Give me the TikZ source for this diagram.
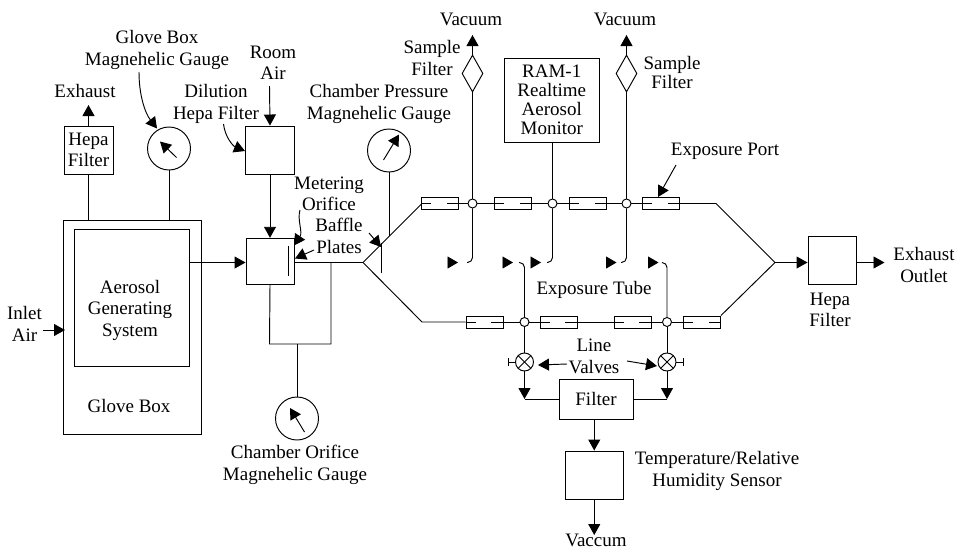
\documentclass[tikz,border=0pt]{standalone}
\usepackage{fontspec}
\setmainfont{Liberation Serif}
\usetikzlibrary{arrows.meta,shapes.geometric}
\tikzset{
  x=1pt,y=-1pt,
  every path/.style={line width=0.95pt},
  box/.style={draw,rectangle,inner sep=0pt,fill=white},
  gauge/.style={draw,circle,inner sep=0pt,minimum size=43pt},
  portbox/.style={draw,rectangle,inner sep=0pt,minimum width=37pt,minimum height=12pt,line width=0.85pt},
  junc/.style={draw,circle,inner sep=0pt,minimum size=9pt,fill=white},
  valve/.style={draw,circle,inner sep=0pt,minimum size=18pt,path picture={
     \draw (path picture bounding box.north west)--(path picture bounding box.south east);
     \draw (path picture bounding box.north east)--(path picture bounding box.south west);}},
  sfilter/.style={draw,diamond,inner sep=0pt,minimum width=21pt,minimum height=37pt},
  lbl/.style={align=center,inner sep=0pt,font=\fontsize{19}{21.5}\selectfont},
  ram/.style={align=center,font=\fontsize{19}{19}\selectfont},
  arr/.style={-{Triangle[length=11pt,width=12pt]}},
  smalltip/.style={-{Triangle[length=10.5pt,width=12pt]}},
  valvehandle/.style={-{Bar[width=8pt]}},
  hook/.style={rounded corners=5pt},
}
\newcommand{\tubeport}[3]{%
  \node[portbox] (#1) at (#2,#3) {};
  \draw[line width=0.85pt] (#1.west) -- ++(10,0);
  \draw[line width=0.85pt] (#1.east) -- ++(-12,0);
}
\begin{document}
\begin{tikzpicture}
\useasboundingbox (0,0) rectangle (956,549);
% boxes
\node[box,minimum width=49pt,minimum height=48pt,align=center,font=\fontsize{19}{20.5}\selectfont] (Hepa) at (88.5,150) {Hepa\\Filter};
\node[box,minimum width=138pt,minimum height=214.5pt] (Outer) at (132,327.25) {};
\node[box,minimum width=115.5pt,minimum height=137pt] (Inner) at (131.75,297.5) {};
\node[lbl] (tAGS) at (130,310) {Aerosol\\Generating\\System};
\node[lbl] (tGB) at (129,405.5) {Glove Box};
\node[box,minimum width=49.5pt,minimum height=48pt] (Dil) at (270,150) {};
\node[box,minimum width=48pt,minimum height=46.5pt] (Mix) at (270,261.5) {};
\node[box,minimum width=94.5pt,minimum height=84pt,ram] (RAM) at (551.75,100) {RAM-1\\Realtime\\Aerosol\\Monitor};
\node[box,minimum width=48pt,minimum height=48pt] (HepaR) at (832,260) {};
\node[box,minimum width=74pt,minimum height=40pt,font=\fontsize{19}{20}\selectfont] (Filt) at (596,399) {Filter};
\node[box,minimum width=58.5pt,minimum height=48pt] (Temp) at (594.25,475) {};
% gauges
\node[gauge] (G1) at (169,148.5) {};
\node[gauge] (G2) at (389,150.5) {};
\node[gauge] (G3) at (297,418.5) {};
% needles
\coordinate (n1a) at (176.5,157.5); \coordinate (n1b) at (160,141.5);
\coordinate (n2a) at (383.5,160);   \coordinate (n2b) at (399,134.5);
\coordinate (n3a) at (304.5,432);   \coordinate (n3b) at (290,408);
\draw[arr] (n1a) -- (n1b);
\draw[arr] (n2a) -- (n2b);
\draw[arr] (n3a) -- (n3b);
% tube ports
\tubeport{UP1}{440}{203.5}
\tubeport{UP2}{513.3}{203.5}
\tubeport{UP3}{588}{203.5}
\tubeport{UP4}{661}{203.5}
\tubeport{LP1}{484.5}{322}
\tubeport{LP2}{558.5}{322}
\tubeport{LP3}{632.5}{322}
\tubeport{LP4}{702}{322}
% junctions
\node[junc] (J1) at (472.5,203.5) {};
\node[junc] (J2) at (552.5,203.5) {};
\node[junc] (J3) at (626.5,203.5) {};
\node[junc] (LJ1) at (524.5,322) {};
\node[junc] (LJ2) at (667,322) {};
% sample filters
\node[sfilter] (D1) at (472.5,73.5) {};
\node[sfilter] (D2) at (626.5,73.5) {};
% valves
\node[valve] (V1) at (524.5,362) {};
\node[valve] (V2) at (667,362) {};
% key points
\coordinate (br) at (363,262.5);
\coordinate (ulb) at (422,203.5);
\coordinate (llb) at (422,322);
\coordinate (urb) at (716,203.5);
\coordinate (mrg) at (775,262.5);
\coordinate (exh) at (884.5,262.5);
\coordinate (baf1) at (381,243);
\coordinate (baf2) at (381,273);
\coordinate (bar1) at (288,246);
\coordinate (bar2) at (288,276);
\coordinate (g2e) at (389,236);
\coordinate (bl) at (269.5,344);
\coordinate (brc) at (331,344);
\coordinate (brt) at (331,262.5);
\coordinate (g3t) at (297,344);
% main flow
\draw[arr] (Inner.east |- br) -- (Mix.west |- br);
\draw (Mix.east |- br) -- (br);
\draw (br) -- (ulb) -- (UP1.west);
\draw (br) -- (llb) -- (LP1.west);
\draw (baf1) -- (baf2);
\draw (bar1) -- (bar2);
\draw (UP1.east) -- (J1);
\draw (J1) -- (UP2.west);
\draw (UP2.east) -- (J2);
\draw (J2) -- (UP3.west);
\draw (UP3.east) -- (J3);
\draw (J3) -- (UP4.west);
\draw (UP4.east) -- (urb) -- (mrg) -- (LP4.north east);
\draw (LP1.east) -- (LJ1);
\draw (LJ1) -- (LP2.west);
\draw (LP2.east) -- (LP3.west);
\draw (LP3.east) -- (LJ2);
\draw (LJ2) -- (LP4.west);
\draw[arr] (mrg) -- (HepaR.west |- mrg);
\draw[arr] (HepaR.east |- mrg) -- (exh);
% left side
\coordinate (exT) at (88.5,105);
\draw[arr] (Hepa.north) -- (exT);
\draw (Hepa.south) -- (Hepa.south |- Outer.north);
\draw (G1.south) -- (G1.south |- Outer.north);
\coordinate (roomS) at (269.5,86);
\draw[arr] (roomS) -- (Dil.north);
\draw[arr] (Dil.south) -- (Mix.north);
\draw (G2.south) -- (g2e);
\draw (Mix.south) -- (bl) -- (brc) -- (brt);
\draw (g3t) -- (G3.north);
\coordinate (inS) at (43,330); \coordinate (inE) at (65,330);
\draw[arr] (inS) -- (inE);
% vacuum lines
\coordinate (vac1) at (472.5,35);
\coordinate (vac2) at (626.5,35);
\draw[arr] (D1.north) -- (vac1);
\draw[arr] (D2.north) -- (vac2);
\draw (J1) -- (D1.south);
\draw (J3) -- (D2.south);
\draw (J2) -- (RAM.south -| J2);
% hooks
\coordinate (h1) at (467,262.5);
\coordinate (h2) at (519,262.5);
\coordinate (h3) at (547,262.5);
\coordinate (h4) at (621,262.5);
\coordinate (h5) at (662,262.5);
\draw[hook] (J1) |- (h1);
\draw[hook] (LJ1) |- (h2);
\draw[hook] (J2) |- (h3);
\draw[hook] (J3) |- (h4);
\draw[hook] (LJ2) |- (h5);
% free triangles
\foreach \n/\xa in {a/447.5,b/502.5,c/530.5,d/606,e/648}{
  \coordinate (ts\n) at (\xa,262.5);
  \coordinate (te\n) at (\xa+10.5,262.5);
  \draw[smalltip] (ts\n) -- (te\n);
}
% valves and filter
\coordinate (c1) at (524.5,399);
\coordinate (c2) at (667,399);
\coordinate (vh1) at (508,362);
\coordinate (vh2) at (684,362);
\draw (LJ1) -- (V1);
\draw (LJ2) -- (V2);
\draw[arr] (V1) -- (c1);
\draw[arr] (V2) -- (c2);
\draw (c1) -- (Filt.west |- c1);
\draw (c2) -- (Filt.east |- c2);
\draw[valvehandle] (V1.west) -- (vh1);
\draw[valvehandle] (V2.east) -- (vh2);
\draw[arr] (Filt.south -| Temp) -- (Temp.north);
\coordinate (vacB) at (594.25,535);
\draw[arr] (Temp.south) -- (vacB);
% labels
\node[lbl] (tGBG) at (157,50) {Glove Box\\Magnehelic Gauge};
\node[lbl] (tEx) at (85,91) {Exhaust};
\node[lbl] (tRoom) at (273,63) {Room\\Air};
\node[lbl] (tDil) at (216,104) {Dilution\\Hepa Filter};
\node[lbl] (tCP) at (379,104) {Chamber Pressure\\Magnehelic Gauge};
\node[lbl] (tSF1) at (432,58) {Sample\\Filter};
\node[lbl] (tV1) at (471,19) {Vacuum};
\node[lbl] (tV2) at (625,19) {Vacuum};
\node[lbl,font=\fontsize{19}{19}\selectfont] (tSF2) at (672,72.5) {Sample\\Filter};
\node[lbl] (tEP) at (725,151) {Exposure Port};
\node[lbl] (tMO) at (329,194) {Metering\\Orifice};
\node[lbl] (tBP) at (339,236) {Baffle\\Plates};
\node[lbl] (tET) at (594,290) {Exposure Tube};
\node[lbl] (tLV) at (594,356.5) {Line\\Valves};
\node[lbl] (tHR) at (830,310) {Hepa\\Filter};
\node[lbl] (tEO) at (924,265) {Exhaust\\Outlet};
\node[lbl] (tIA) at (24.5,324) {Inlet\\Air};
\node[lbl] (tCO) at (295,465) {Chamber Orifice\\Magnehelic Gauge};
\node[lbl] (tTR) at (717,471) {Temperature/Relative\\Humidity Sensor};
\node[lbl,anchor=base] (tVac) at (596,546.5) {Vaccum};
% callout arrows
\coordinate (a1) at (139,72); \coordinate (a1t) at (157,128.5);
\draw[arr] (a1) .. controls (139,95) and (145,113) .. (a1t);
\coordinate (a2) at (223.5,124); \coordinate (a2t) at (245,151);
\draw[arr] (a2) .. controls (225,137) and (233,146) .. (a2t);
\coordinate (a3) at (300,210); \coordinate (a3t) at (294,245.5);
\draw[arr] (a3) .. controls (297,220) and (303,232) .. (a3t);
\coordinate (a4) at (314,250); \coordinate (a4t) at (295,258.5);
\draw[arr] (a4) -- (a4t);
\coordinate (a5) at (369,233); \coordinate (a5t) at (381,247);
\draw[arr] (a5) -- (a5t);
\coordinate (a6) at (676,165); \coordinate (a6t) at (658,197);
\draw[arr] (a6) -- (a6t);
\coordinate (a7) at (567,364); \coordinate (a7t) at (538,365);
\draw[arr] (a7) -- (a7t);
\coordinate (a8) at (627,361); \coordinate (a8t) at (657,366);
\draw[arr] (a8) -- (a8t);
\end{tikzpicture}
\end{document}
